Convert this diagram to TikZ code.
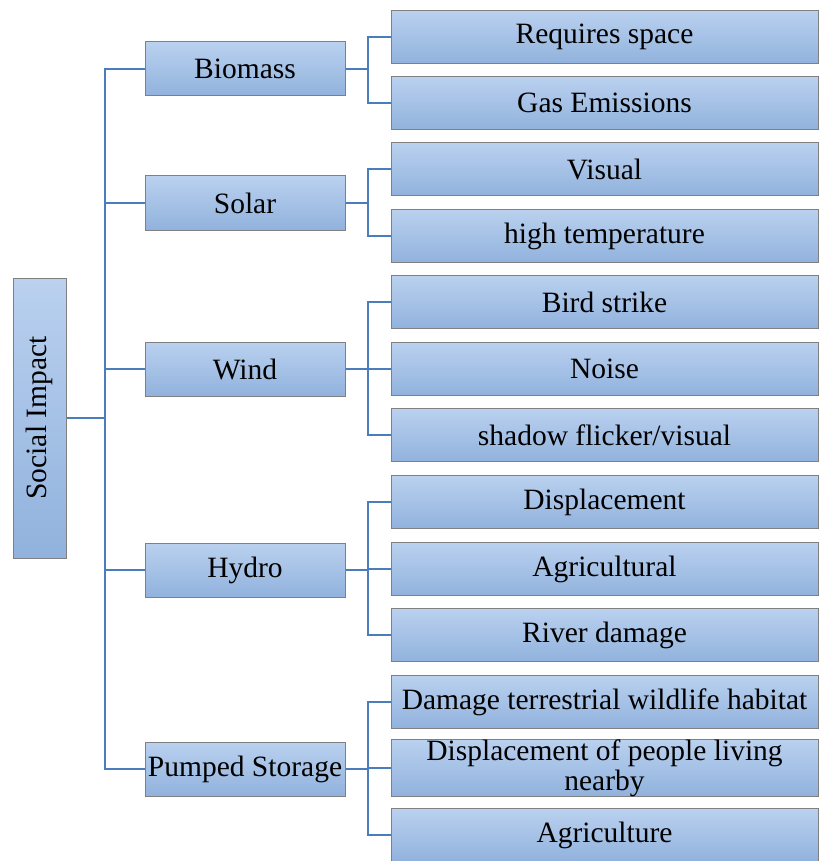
\documentclass[tikz,border=0pt]{standalone}
\usepackage{fontspec}
\setmainfont{Liberation Serif}
\usetikzlibrary{positioning}
\definecolor{linkblue}{RGB}{74,126,187}
\definecolor{boxtop}{RGB}{186,209,239}
\definecolor{boxbot}{RGB}{145,178,221}
\definecolor{boxline}{RGB}{128,128,128}
\tikzset{
  sibox/.style={draw=boxline, line width=1pt, top color=boxtop, bottom color=boxbot, align=center, inner sep=0pt, font=\fontsize{29.5}{30}\selectfont},
  rootbox/.style={sibox, minimum width=53pt, minimum height=280pt},
  srcbox/.style={sibox, minimum width=200pt, minimum height=54pt},
  effbox/.style={sibox, minimum width=427pt, minimum height=53pt},
  silink/.style={draw=linkblue, line width=2.5pt}
}

\begin{document}
\begin{tikzpicture}[x=1pt, y=-1pt]
\useasboundingbox (0,0) rectangle (819,861);
\node[rootbox] (root) at (39.5,418) {\rotatebox{90}{Social Impact}};
% energy sources
\node[srcbox] (bio) at (245,69) {Biomass};
\node[srcbox] (sol) at (245,203) {Solar};
\node[srcbox] (wind) at (245,369) {Wind};
\node[srcbox] (hyd) at (245,570) {Hydro};
\node[srcbox] (pump) at (245,769) {Pumped Storage};
% impacts
\node[effbox] (req) at (604.5,37) {Requires space};
\node[effbox] (gas) at (604.5,103) {Gas Emissions};
\node[effbox] (vis) at (604.5,169) {Visual};
\node[effbox] (temp) at (604.5,236) {high temperature};
\node[effbox] (bird) at (604.5,302) {Bird strike};
\node[effbox] (noise) at (604.5,369) {Noise};
\node[effbox] (shadow) at (604.5,435) {shadow flicker/visual};
\node[effbox] (displ) at (604.5,502) {Displacement};
\node[effbox] (agri) at (604.5,569) {Agricultural};
\node[effbox] (river) at (604.5,635) {River damage};
\node[effbox] (habit) at (604.5,702) {Damage terrestrial wildlife habitat};
\node[effbox] (people) at (604.5,768) {Displacement of people living\\nearby};
\node[effbox] (agric) at (604.5,835) {Agriculture};
% connectors
\coordinate (trunk) at (105,418);
\coordinate (bus) at (368,0);
\foreach \s in {bio,sol,wind,hyd,pump}
  \draw[silink] (root.east) -| (trunk |- \s) -- (\s.west);
\foreach \s/\c in {bio/req,bio/gas,sol/vis,sol/temp,wind/bird,wind/noise,wind/shadow,hyd/displ,hyd/agri,hyd/river,pump/habit,pump/people,pump/agric}
  \draw[silink] (\s.east) -| (bus |- \c) -- (\c.west);
\end{tikzpicture}
\end{document}
